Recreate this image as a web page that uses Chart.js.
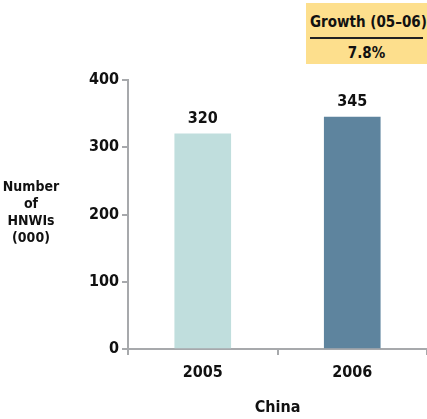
<!DOCTYPE html>
<html>
<head>
<meta charset="utf-8">
<script src="https://cdn.jsdelivr.net/npm/chart.js@4"></script>
<style>
  html, body { margin: 0; padding: 0; background: #fff; }
  #wrap { position: relative; width: 427px; height: 419px; font-family: "Liberation Sans Narrow", "DejaVu Sans Condensed", sans-serif; font-weight: bold; color: #111; }
  #growth { position: absolute; left: 306px; top: 3px; width: 121px; height: 61px; background: #FDDF8D; text-align: center; font-size: 15px; white-space: nowrap; }
  #growth .head { margin: 0 4px; padding-top: 10px; box-sizing: border-box; height: 36px; border-bottom: 2px solid #222; }
  #growth .val { padding-top: 5px; }
  #ylab { position: absolute; left: 0; top: 178px; width: 62px; text-align: center; font-size: 14px; line-height: 17px; }
</style>
</head>
<body>
<div id="wrap">
  <canvas id="myChart" width="427" height="419"></canvas>
  <div id="growth"><div class="head">Growth (05–06)</div><div class="val">7.8%</div></div>
  <div id="ylab">Number<br>of<br>HNWIs<br>(000)</div>
</div>
<script>
  const categories = ['2005', '2006'];
  const hnwiValues = [320, 345];
  const barColors = ['#C0DEDD', '#5E849E'];
  const yTicks = [0, 100, 200, 300, 400];

  const FONT = '"Liberation Sans Narrow", "DejaVu Sans Condensed", sans-serif';
  const axisGrey = '#A7A9AC';

  // value labels above bars
  const barLabels = {
    id: 'barLabels',
    afterDatasetsDraw(chart) {
      const ctx = chart.ctx;
      const meta = chart.getDatasetMeta(0);
      ctx.save();
      ctx.font = 'bold 16px ' + FONT;
      ctx.fillStyle = '#111';
      ctx.textAlign = 'center';
      ctx.textBaseline = 'bottom';
      meta.data.forEach((bar, i) => {
        ctx.fillText(hnwiValues[i], bar.x, bar.y - 7);
      });
      ctx.restore();
    }
  };

  const config = {
    type: 'bar',
    data: {
      labels: categories,
      datasets: [{
        data: hnwiValues,
        backgroundColor: barColors,
        borderWidth: 0,
        barThickness: 56
      }]
    },
    options: {
      responsive: false,
      animation: false,
      layout: {
        padding: { top: 80, right: 0, left: 0, bottom: 0 }
      },
      scales: {
        x: {
          afterFit(scale) { scale.height = 70; },
          border: { color: axisGrey, width: 2 },
          grid: { display: true, drawOnChartArea: false, color: axisGrey, lineWidth: 2, tickLength: 6 },
          ticks: { color: '#111', padding: 8, font: { family: FONT, size: 16, weight: 'bold' } },
          title: { display: true, text: 'China', color: '#111', padding: { top: 0, bottom: 2 }, font: { family: FONT, size: 16, weight: 'bold' } }
        },
        y: {
          min: 0,
          max: 400,
          afterFit(scale) { scale.width = 128; },
          afterBuildTicks(scale) { scale.ticks = yTicks.map(v => ({ value: v })); },
          border: { color: axisGrey, width: 2 },
          grid: { display: true, drawOnChartArea: false, color: axisGrey, lineWidth: 2, tickLength: 6 },
          ticks: { color: '#111', padding: 3, font: { family: FONT, size: 16, weight: 'bold' } }
        }
      },
      plugins: {
        legend: { display: false },
        tooltip: { enabled: false }
      }
    },
    plugins: [barLabels]
  };

  const myChart = new Chart(document.getElementById('myChart'), config);
</script>
</body>
</html>
